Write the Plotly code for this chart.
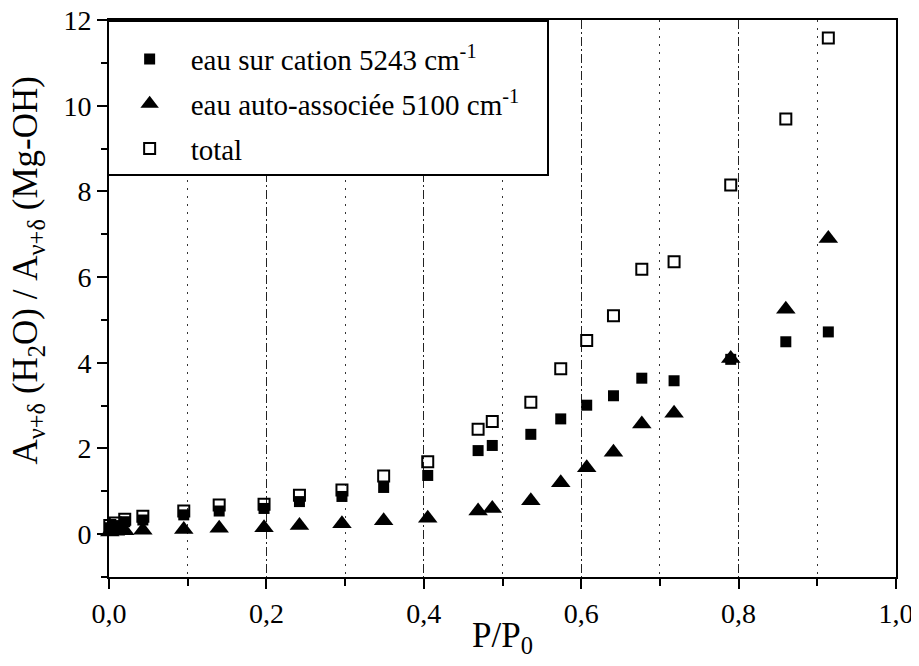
import plotly.graph_objects as go

# relative pressure P/P0 (shared by the three series)
p_p0 = [0.001, 0.008, 0.020, 0.043, 0.095, 0.140, 0.197, 0.242, 0.296, 0.349, 0.405,
        0.469, 0.487, 0.536, 0.574, 0.607, 0.641, 0.677, 0.718, 0.790, 0.860, 0.914]

cation = [0.15, 0.20, 0.29, 0.33, 0.45, 0.54, 0.60, 0.76, 0.88, 1.09, 1.37,
          1.95, 2.07, 2.33, 2.69, 3.01, 3.23, 3.64, 3.58, 4.08, 4.49, 4.72]

auto_assoc = [0.05, 0.07, 0.08, 0.09, 0.11, 0.14, 0.15, 0.20, 0.24, 0.31, 0.37,
              0.54, 0.60, 0.78, 1.20, 1.55, 1.91, 2.57, 2.82, 4.10, 5.25, 6.90]

total = [0.20, 0.26, 0.35, 0.42, 0.54, 0.68, 0.70, 0.91, 1.03, 1.36, 1.69,
         2.45, 2.63, 3.08, 3.86, 4.52, 5.10, 6.18, 6.36, 8.15, 9.69, 11.58]

FONT = "Liberation Serif"
PAD = "\u00a0\u00a0\u00a0"  # a bit of room on the right of the legend box

fig = go.Figure()

fig.add_trace(go.Scatter(
    x=p_p0, y=total, mode="markers", name="total", legendrank=3, legendgroup="c",
    marker=dict(symbol="square-open", size=11, color="black", line=dict(width=2)),
    cliponaxis=False,
))
fig.add_trace(go.Scatter(
    x=p_p0, y=cation, mode="markers", name="eau sur cation 5243 cm<sup>-1</sup>",
    legendrank=1, legendgroup="a",
    marker=dict(symbol="square", size=11, color="black"),
    cliponaxis=False,
))
fig.add_trace(go.Scatter(
    x=p_p0, y=auto_assoc, mode="markers", name="eau auto-associée 5100 cm<sup>-1</sup>" + PAD,
    legendrank=2, legendgroup="b",
    marker=dict(symbol="triangle-up", size=17, color="black"),
    cliponaxis=False,
))

fig.update_layout(
    template="none",
    width=903, height=650,
    margin=dict(l=101, r=15, t=12, b=81),
    paper_bgcolor="white", plot_bgcolor="white",
    font=dict(family=FONT, size=28, color="black"),
    separators=", ",
    showlegend=True,
    legend=dict(
        x=-0.003, y=1, xanchor="left", yanchor="top",
        bgcolor="white", bordercolor="black", borderwidth=2,
        font=dict(family=FONT, size=29, color="black"),
        itemwidth=72, tracegroupgap=4, traceorder="grouped",
        title=dict(text="\u00a0", font=dict(family=FONT, size=9)),
    ),
    xaxis=dict(
        range=[0, 1], dtick=0.2, tick0=0, tickformat=".1f", automargin=False,
        ticklabeloverflow="allow",
        tickfont=dict(family=FONT, size=28, color="black"),
        showline=True, linecolor="black", linewidth=2, mirror=True,
        ticks="outside", ticklen=10, tickwidth=2, tickcolor="black",
        showgrid=True, gridcolor="#222", gridwidth=1, griddash="9px,3px,2px,3px",
        zeroline=False,
        minor=dict(dtick=0.1, ticks="outside", ticklen=7, tickwidth=2, tickcolor="black",
                   showgrid=True, gridcolor="#333", gridwidth=1, griddash="2px,6px"),
    ),
    yaxis=dict(
        range=[-1, 12], dtick=2, tick0=0, automargin=False,
        ticklabeloverflow="allow",
        tickfont=dict(family=FONT, size=28, color="black"),
        showline=True, linecolor="black", linewidth=2, mirror=True,
        ticks="outside", ticklen=10, tickwidth=2, tickcolor="black",
        showgrid=False, zeroline=False,
        minor=dict(dtick=1, ticks="outside", ticklen=6, tickwidth=2, tickcolor="black"),
    ),
    annotations=[
        dict(text="P/P<sub>0</sub>", xref="paper", yref="paper", x=0.5, y=-0.108,
             xanchor="center", yanchor="middle", showarrow=False,
             font=dict(family=FONT, size=35, color="black")),
        dict(text="A<sub>ν+δ</sub> (H<sub>2</sub>O) / A<sub>ν+δ</sub> (Mg-OH)",
             xref="paper", yref="paper", x=-0.103, y=0.55, textangle=-90,
             xanchor="center", yanchor="middle", showarrow=False,
             font=dict(family=FONT, size=35, color="black")),
    ],
)

fig.write_html("out.html")
